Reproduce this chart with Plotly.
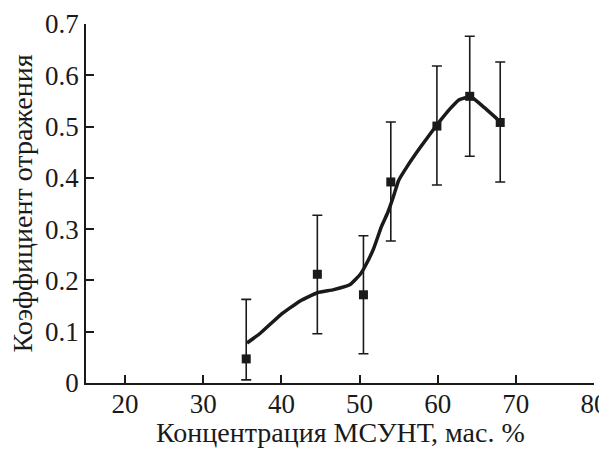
import plotly.graph_objects as go

# Measured points
conc = [35.5, 44.6, 50.5, 54.0, 59.9, 64.1, 68.0]
refl = [0.047, 0.212, 0.172, 0.392, 0.501, 0.559, 0.508]
err_plus = [0.116, 0.115, 0.115, 0.117, 0.117, 0.117, 0.118]
err_minus = [0.041, 0.116, 0.115, 0.115, 0.115, 0.117, 0.116]

# Smoothed curve
curve_x = [35.6, 37.3, 39.9, 42.4, 44.6, 46.7, 48.8, 50.1, 50.8, 51.8, 52.8, 53.6,
           54.3, 55.0, 56.0, 57.8, 59.1, 60.4, 61.6, 62.7, 64.2, 65.9, 67.6]
curve_y = [0.078, 0.097, 0.133, 0.160, 0.176, 0.182, 0.192, 0.212, 0.230, 0.262, 0.305, 0.332,
           0.362, 0.395, 0.420, 0.460, 0.487, 0.513, 0.535, 0.552, 0.558, 0.538, 0.515]

x_ticks = [20, 30, 40, 50, 60, 70, 80]
y_ticks = [0, 0.1, 0.2, 0.3, 0.4, 0.5, 0.6, 0.7]
y_tick_text = ["0", "0.1", "0.2", "0.3", "0.4", "0.5", "0.6", "0.7"]

ink = "#1a1a1a"
font = "Liberation Serif"
fs_tick = 27
fs_title = 28

fig = go.Figure()
fig.add_trace(go.Scatter(
    x=conc, y=refl, mode="markers",
    marker=dict(symbol="square", size=9, color=ink),
    error_y=dict(type="data", array=err_plus, arrayminus=err_minus, symmetric=False,
                 color=ink, thickness=1.6, width=5),
    showlegend=False, cliponaxis=False,
))
fig.add_trace(go.Scatter(
    x=curve_x, y=curve_y, mode="lines",
    line=dict(color=ink, width=3.5, shape="spline", smoothing=0.4),
    showlegend=False,
))

# page body has an 8px default margin, so the figure is sized to fit the window
fig.update_layout(
    width=599, height=441,
    margin=dict(l=78, r=13, t=16, b=66, autoexpand=False),
    paper_bgcolor="white", plot_bgcolor="white",
    font=dict(family=font, size=fs_tick, color=ink),
    annotations=[
        dict(text="Концентрация МСУНТ, мас. %", xref="paper", yref="paper",
             x=0.5, y=0, yshift=-49, xanchor="center", yanchor="middle",
             showarrow=False, font=dict(family=font, size=fs_title, color=ink)),
        dict(text="Коэффициент отражения", xref="paper", yref="paper",
             x=0, y=0.5, xshift=-64, textangle=-90, xanchor="center", yanchor="middle",
             showarrow=False, font=dict(family=font, size=fs_title, color=ink)),
    ],
)
fig.update_xaxes(
    range=[15, 80], tickvals=x_ticks, ticks="inside", ticklen=8, tickwidth=1.5,
    tickcolor=ink, showline=True, linecolor=ink, linewidth=1.5, showgrid=False,
    zeroline=False, tickfont=dict(family=font, size=fs_tick), ticklabelstandoff=-4,
    ticklabeloverflow="allow", automargin=False,
)
fig.update_yaxes(
    range=[0, 0.7], tickvals=y_ticks, ticktext=y_tick_text, ticks="inside", ticklen=8,
    tickwidth=1.5, tickcolor=ink, showline=True, linecolor=ink, linewidth=1.5,
    showgrid=False, zeroline=False, tickfont=dict(family=font, size=fs_tick),
    ticklabeloverflow="allow", automargin=False,
)

fig.write_html("out.html")
